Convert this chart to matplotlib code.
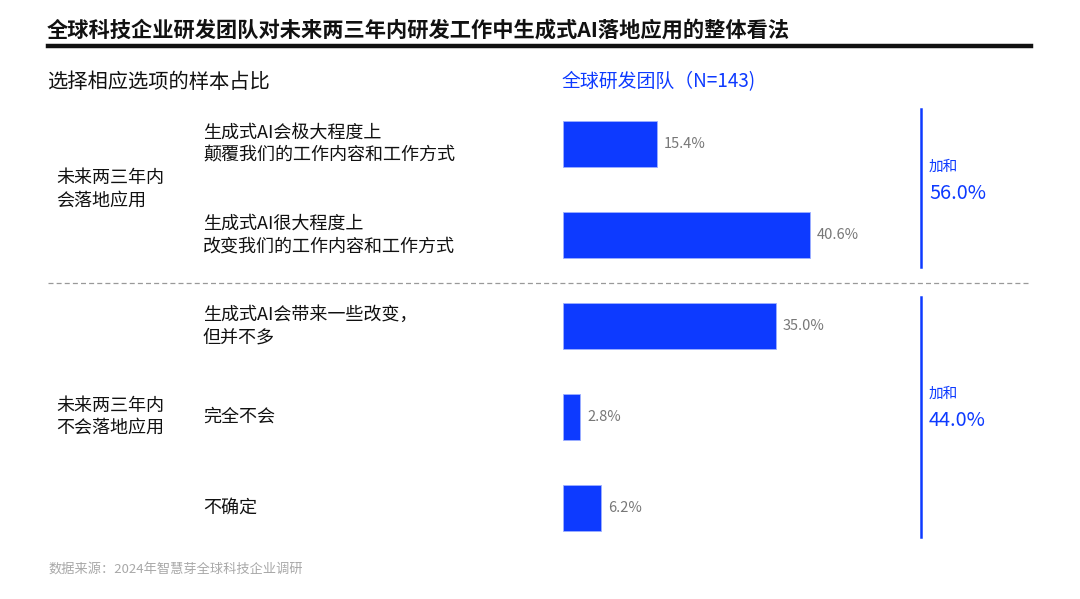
"""
横向条形图 - 全球研发团队对生成式AI落地应用的整体看法
"""
import matplotlib
matplotlib.use('Agg')
import matplotlib.pyplot as plt
from matplotlib.transforms import blended_transform_factory

plt.rcParams['font.family'] = ['Noto Sans CJK SC', 'DejaVu Sans']

# ── 数据 ────────────────────────────────────────────────
options = [
    '生成式AI会极大程度上\n颠覆我们的工作内容和工作方式',
    '生成式AI很大程度上\n改变我们的工作内容和工作方式',
    '生成式AI会带来一些改变，\n但并不多',
    '完全不会',
    '不确定',
]
shares = [15.4, 40.6, 35.0, 2.8, 6.2]
groups = ['未来两三年内\n会落地应用', '未来两三年内\n不会落地应用']
group_members = [[0, 1], [2, 3, 4]]

BLUE = '#0D3AFF'
W, H = 1080, 599

fig = plt.figure(figsize=(W / 100, H / 100), dpi=100)
fig.patch.set_facecolor('white')

def fx(px):
    return px / W

def fy(py):
    return 1 - py / H

# 条形区域：每个类别 91px，条形左端 563px，6.08px / %
ax = fig.add_axes([fx(563), fy(553.5), fx(337), 455 / H])
ax.set_xlim(0, 337 / 6.08)
ax.set_ylim(len(options) - 0.5, -0.5)
ax.axis('off')

ypos = list(range(len(options)))
ax.barh(ypos, shares, height=0.5, color=BLUE, edgecolor='#9db0ff', linewidth=0.6)
for y, v in zip(ypos, shares):
    ax.text(v + 1.2, y, f'{v:.1f}%', va='center', ha='left',
            fontsize=10.5, fontweight='light', color='#777777')

tr = blended_transform_factory(fig.transFigure, ax.transData)

# 选项标签
for y, lab in zip(ypos, options):
    ax.text(fx(203), y, lab, transform=tr, ha='left', va='center',
            fontsize=13, color='#111111', linespacing=1.35)

# 分组标签 + 加和
line_spans = [(-0.38, 1.357), (1.676, 4.32)]
for g, members, (y0, y1) in zip(groups, group_members, line_spans):
    yc = sum(members) / len(members)
    ax.text(fx(56), yc, g, transform=tr, ha='left', va='center',
            fontsize=13, color='#111111', linespacing=1.3)
    total = sum(shares[i] for i in members)
    ax.plot([fx(921), fx(921)], [y0, y1], transform=tr, color=BLUE,
            linewidth=1.8, clip_on=False)
    ax.text(fx(929), yc - 0.25, '加和', transform=tr, ha='left', va='center',
            fontsize=10.5, color=BLUE)
    ax.text(fx(929), yc + 0.04, f'{total:.1f}%', transform=tr, ha='left',
            va='center', fontsize=14.3, color=BLUE)

# 分隔虚线
ax.plot([fx(48), fx(1031)], [1.53, 1.53], transform=tr, color='#999999',
        linewidth=0.9, linestyle=(0, (4, 2.5)), clip_on=False)

# 标题和说明
fig.text(fx(47), fy(30), '全球科技企业研发团队对未来两三年内研发工作中生成式AI落地应用的整体看法',
         ha='left', va='center', fontsize=15.3, fontweight='bold', color='#111111')
fig.add_artist(plt.Line2D([fx(48), fx(1031)], [fy(45.5), fy(45.5)],
                          color='#111111', linewidth=3.2))
fig.text(fx(47), fy(82), '选择相应选项的样本占比', ha='left', va='center',
         fontsize=14.6, color='#111111')
fig.text(fx(562), fy(82), '全球研发团队（N=143)', ha='left', va='center',
         fontsize=13.6, color=BLUE)
fig.text(fx(48), fy(569), '数据来源：2024年智慧芽全球科技企业调研', ha='left',
         va='center', fontsize=9.5, color='#a8a8a8')

fig.savefig('out.png', dpi=100)
plt.close(fig)
